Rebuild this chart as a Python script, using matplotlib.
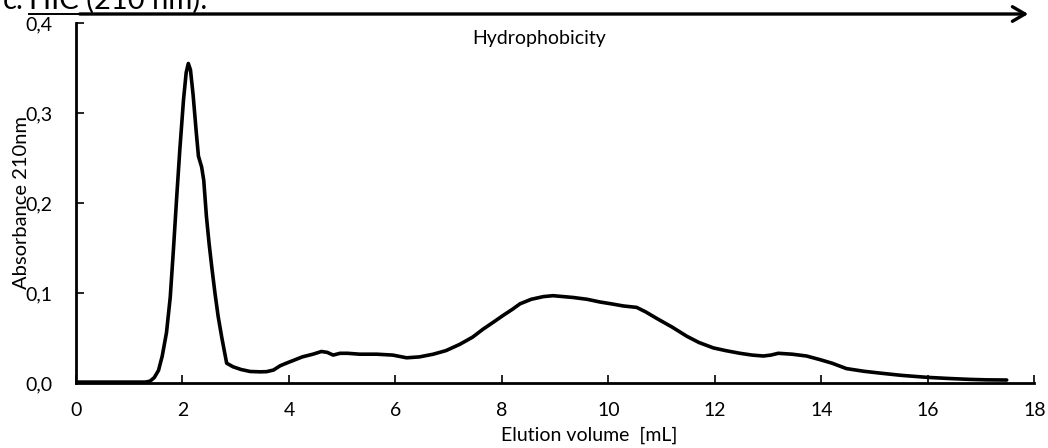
import matplotlib.pyplot as plt
import numpy as np

plt.rcParams['font.family'] = ['Lato', 'DejaVu Sans']

# Хроматограмма HIC, поглощение при 210 нм
volume = [0.0, 0.5, 1.0, 1.3, 1.39, 1.47, 1.55, 1.62, 1.70, 1.77, 1.83, 1.89, 1.95,
          2.02, 2.07, 2.11, 2.15, 2.20, 2.26, 2.30, 2.36, 2.40, 2.45, 2.50, 2.55,
          2.61, 2.67, 2.74, 2.83, 2.95, 3.10, 3.27, 3.46, 3.58, 3.71, 3.83, 3.95,
          4.08, 4.25, 4.45, 4.61, 4.72, 4.83, 4.96, 5.10, 5.33, 5.65, 5.95, 6.21,
          6.45, 6.71, 6.95, 7.21, 7.45, 7.65, 7.85, 8.02, 8.20, 8.34, 8.55, 8.78,
          8.96, 9.15, 9.34, 9.60, 9.84, 10.05, 10.28, 10.53, 10.70, 10.90, 11.20,
          11.47, 11.70, 11.97, 12.20, 12.47, 12.70, 12.91, 13.05, 13.19, 13.45,
          13.72, 13.97, 14.20, 14.47, 14.80, 15.10, 15.50, 15.98, 16.40, 16.79,
          17.10, 17.48]
absorbance = [0.001, 0.001, 0.001, 0.001, 0.002, 0.006, 0.014, 0.030, 0.056, 0.095,
              0.148, 0.205, 0.259, 0.315, 0.345, 0.355, 0.348, 0.320, 0.278, 0.252,
              0.240, 0.225, 0.185, 0.155, 0.129, 0.100, 0.074, 0.050, 0.022, 0.018,
              0.015, 0.0128, 0.0124, 0.0126, 0.0144, 0.019, 0.022, 0.025, 0.029,
              0.032, 0.035, 0.034, 0.031, 0.033, 0.033, 0.032, 0.032, 0.031, 0.028,
              0.029, 0.032, 0.036, 0.043, 0.051, 0.060, 0.068, 0.075, 0.082, 0.088,
              0.093, 0.096, 0.097, 0.096, 0.095, 0.093, 0.090, 0.088, 0.0856, 0.084,
              0.079, 0.072, 0.062, 0.052, 0.045, 0.039, 0.036, 0.033, 0.031, 0.030,
              0.031, 0.033, 0.032, 0.030, 0.026, 0.022, 0.016, 0.013, 0.011, 0.0085,
              0.0063, 0.005, 0.004, 0.0035, 0.0033]

x_ticks = np.arange(0, 19, 2)
y_ticks = [0.0, 0.1, 0.2, 0.3, 0.4]
y_labels = ['0,0', '0,1', '0,2', '0,3', '0,4']

fig = plt.figure(figsize=(10.48, 4.48), dpi=100)
ax = fig.add_axes([0.0725, 0.1451, 0.9145, 0.8036])

ax.plot(volume, absorbance, color='black', lw=2.6, solid_capstyle='round')

ax.set_xlim(0, 18)
ax.set_ylim(0, 0.4)
ax.set_xticks(x_ticks)
ax.set_yticks(y_ticks)
ax.set_yticklabels(y_labels)
ax.tick_params(direction='in', length=6, width=1.2, labelsize=14)
ax.tick_params(axis='y', pad=17)
ax.tick_params(axis='x', pad=14)
for s in ['top', 'right']:
    ax.spines[s].set_visible(False)
for s in ['left', 'bottom']:
    ax.spines[s].set_linewidth(2)

ax.set_xlabel('Elution volume  [mL]', fontsize=14)
ax.xaxis.set_label_coords(0.535, -0.122)
ax.set_ylabel('Absorbance 210nm', fontsize=14.5)
ax.yaxis.set_label_coords(-0.048, 0.5)

ax.text(8.7, 0.383, 'Hydrophobicity', ha='center', va='center', fontsize=14)

# Стрелка гидрофобности над графиком
fig.patches.append(plt.matplotlib.patches.FancyArrowPatch(
    (77 / 1048, 1 - 14 / 448), (1031 / 1048, 1 - 14 / 448),
    transform=fig.transFigure, arrowstyle='->,head_length=6,head_width=3.5',
    color='black', lw=2.4, mutation_scale=1.5))

# Обрезанный заголовок панели (подчёркнута часть "HIC (210 nm)")
title_y = 1 - 9 / 448
fig.text(24 / 1048, title_y, 'c.', fontsize=21, ha='right', va='baseline')
fig.text(29 / 1048, title_y, 'HIC (210 nm):', fontsize=21, ha='left', va='baseline')
fig.add_artist(plt.Line2D([29 / 1048, 205 / 1048], [1 - 14 / 448, 1 - 14 / 448],
                          color='black', lw=1.4))

plt.savefig('out.png', dpi=100)
